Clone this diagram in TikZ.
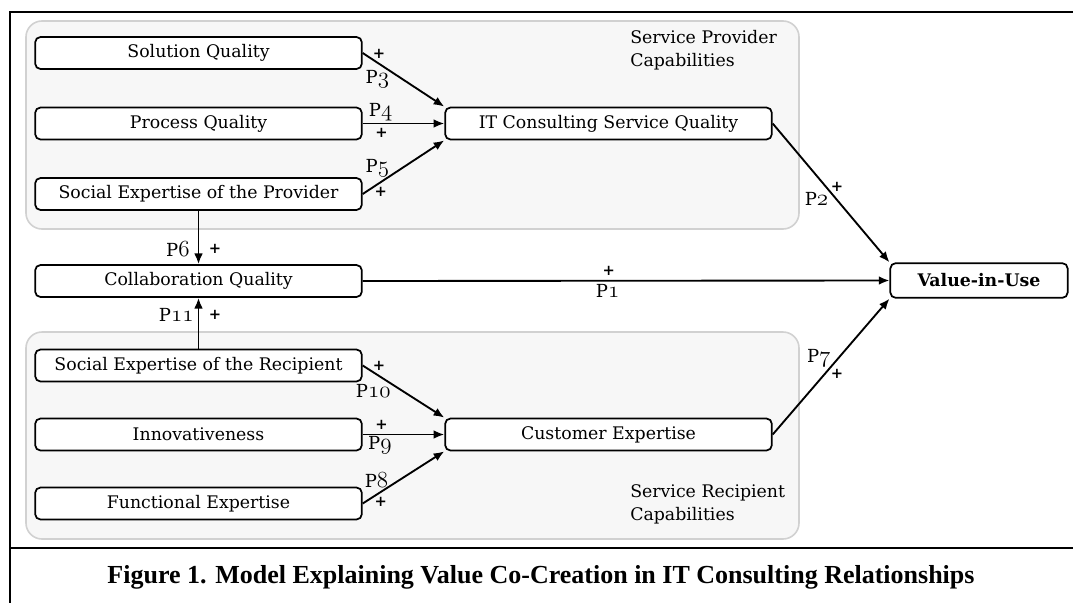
\documentclass[tikz,border=0pt]{standalone}
\usepackage{fontspec}
\setmainfont{DejaVu Serif}
\newfontfamily\capfont{Liberation Serif}
\usetikzlibrary{positioning, arrows.meta}

% proposition label with old style digits
\newcommand{\prop}[1]{P{\usefont{OML}{lmm}{m}{it}\fontsize{16.5}{17}\selectfont#1}}

\begin{document}
\begin{tikzpicture}[
    x=0.75pt, y=-0.75pt,
    construct/.style={rectangle, draw=black, fill=white, line width=1.3pt, rounded corners=4pt,
                  minimum width=245pt, minimum height=24pt, inner sep=0pt,
                  font=\fontsize{13}{15}\selectfont},
    group/.style={draw=black!18, fill=black!3, line width=1.2pt, rounded corners=12pt},
    grouplabel/.style={font=\fontsize{13}{17.5}\selectfont, align=left, inner sep=0pt},
    arrow/.style={-{Latex[length=8pt, width=6.5pt]}, line width=1.4pt},
    plabel/.style={font=\fontsize{13.5}{15}\selectfont, inner sep=1pt},
    sign/.style={font=\fontsize{11}{12}\selectfont\bfseries, inner sep=1pt},
    frame/.style={line width=2.2pt}
]
    \useasboundingbox (0, 0) rectangle (1073, 603);

    % Frame
    \draw[frame] (1073, 12) -- (10, 12) -- (10, 603);
    \draw[frame] (10, 548) -- (1073, 548);

    % Capability groups
    \draw[group] (26, 21) rectangle (799, 229);
    \draw[group] (26, 332) rectangle (799, 539);
    \node[grouplabel, anchor=north west] (provcap) at (630, 30) {Service Provider\\Capabilities};
    \node[grouplabel, anchor=north west] (reccap) at (630, 484) {Service Recipient\\Capabilities};

    % Provider side
    \node[construct] (sol) at (198.5, 53) {Solution Quality};
    \node[construct] (proc) at (198.5, 123.5) {Process Quality};
    \node[construct] (sprov) at (198.5, 194) {Social Expertise of the Provider};
    \node[construct] (itq) at (608.5, 123.5) {IT Consulting Service Quality};

    % Collaboration
    \node[construct] (collab) at (198.5, 281) {Collaboration Quality};

    % Recipient side
    \node[construct] (srec) at (198.5, 365.5) {Social Expertise of the Recipient};
    \node[construct] (innov) at (198.5, 434.5) {Innovativeness};
    \node[construct] (func) at (198.5, 503.5) {Functional Expertise};
    \node[construct] (cust) at (608.5, 434.5) {Customer Expertise};

    % Outcome
    \node[construct, minimum width=133pt, minimum height=26pt,
          font=\fontsize{13}{15}\selectfont\bfseries] (value) at (979, 280.5) {Value-in-Use};

    % Arrows into IT consulting service quality
    \draw[arrow] (sol.east) -- (itq.north west)
        node[sign, pos=0.2, above=2pt] {+} node[plabel, pos=0.18, below=4pt] {\prop{3}};
    \draw[arrow] (proc.east) -- (itq.west)
        node[plabel, pos=0.22, above=0pt] {\prop{4}} node[sign, pos=0.23, below=2pt] {+};
    \draw[arrow] (sprov.east) -- (itq.south west)
        node[plabel, pos=0.18, above=4pt] {\prop{5}} node[sign, pos=0.22, below=2pt] {+};

    % Arrows into customer expertise
    \draw[arrow] (srec.east) -- (cust.north west)
        node[sign, pos=0.2, above=2pt] {+} node[plabel, pos=0.13, below=7pt] {\prop{10}};
    \draw[arrow] (innov.east) -- (cust.west)
        node[sign, pos=0.23, above=2pt] {+} node[plabel, pos=0.21, below=0pt] {\prop{9}};
    \draw[arrow] (func.east) -- (cust.south west)
        node[plabel, pos=0.17, above=4pt] {\prop{8}} node[sign, pos=0.22, below=2pt] {+};

    % Arrows into collaboration quality
    \draw[arrow] (sprov.south) -- (collab.north)
        node[plabel, pos=0.72, left=5pt] {\prop{6}} node[sign, pos=0.72, right=6pt] {+};
    \draw[arrow] (srec.north) -- (collab.south)
        node[plabel, pos=0.67, left=2pt] {\prop{11}} node[sign, pos=0.67, right=6pt] {+};

    % Arrows into value-in-use
    \draw[arrow] (itq.east) -- (value.north west)
        node[plabel, pos=0.54, left=4pt] {\prop{2}} node[sign, pos=0.455, right=2pt] {+};
    \draw[arrow] (collab.east) -- (value.west)
        node[sign, pos=0.467, above=2pt] {+} node[plabel, pos=0.465, below=1pt] {\prop{1}};
    \draw[arrow] (cust.east) -- (value.south west)
        node[plabel, pos=0.56, left=4pt] {\prop{7}} node[sign, pos=0.444, right=3pt] {+};

    % Caption
    \node[font=\capfont\fontsize{19.5}{22}\selectfont\bfseries] (caption) at (541, 577)
        {Figure 1. Model Explaining Value Co-Creation in IT Consulting Relationships};

\end{tikzpicture}
\end{document}
